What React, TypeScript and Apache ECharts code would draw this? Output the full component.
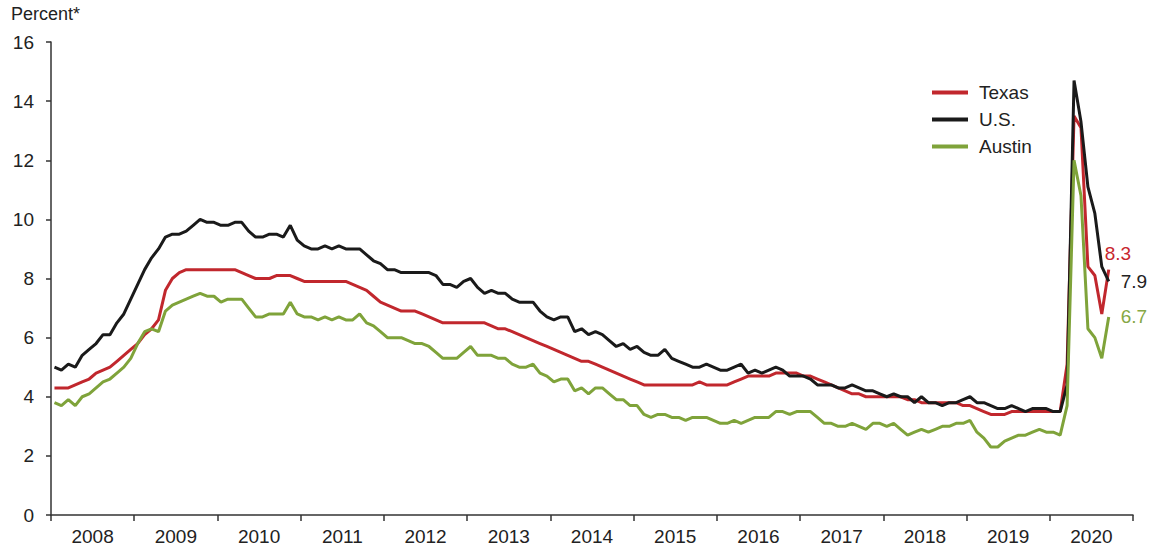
import React, { useEffect, useRef } from "react";
import * as echarts from "echarts";

const years = ["2008", "2009", "2010", "2011", "2012", "2013", "2014", "2015", "2016", "2017", "2018", "2019", "2020"];
const yTicks = { min: 0, max: 16, interval: 2 };

// Monthly unemployment rates, Jan 2008 – Sep 2020
const texas = [
  4.3, 4.3, 4.3, 4.4, 4.5, 4.6, 4.8, 4.9, 5.0, 5.2, 5.4, 5.6,
  5.8, 6.1, 6.3, 6.6, 7.6, 8.0, 8.2, 8.3, 8.3, 8.3, 8.3, 8.3,
  8.3, 8.3, 8.3, 8.2, 8.1, 8.0, 8.0, 8.0, 8.1, 8.1, 8.1, 8.0,
  7.9, 7.9, 7.9, 7.9, 7.9, 7.9, 7.9, 7.8, 7.7, 7.6, 7.4, 7.2,
  7.1, 7.0, 6.9, 6.9, 6.9, 6.8, 6.7, 6.6, 6.5, 6.5, 6.5, 6.5,
  6.5, 6.5, 6.5, 6.4, 6.3, 6.3, 6.2, 6.1, 6.0, 5.9, 5.8, 5.7,
  5.6, 5.5, 5.4, 5.3, 5.2, 5.2, 5.1, 5.0, 4.9, 4.8, 4.7, 4.6,
  4.5, 4.4, 4.4, 4.4, 4.4, 4.4, 4.4, 4.4, 4.4, 4.5, 4.4, 4.4,
  4.4, 4.4, 4.5, 4.6, 4.7, 4.7, 4.7, 4.7, 4.8, 4.8, 4.8, 4.8,
  4.7, 4.7, 4.6, 4.5, 4.4, 4.3, 4.2, 4.1, 4.1, 4.0, 4.0, 4.0,
  4.0, 4.0, 4.0, 3.9, 3.9, 3.8, 3.8, 3.8, 3.8, 3.8, 3.8, 3.7,
  3.7, 3.6, 3.5, 3.4, 3.4, 3.4, 3.5, 3.5, 3.5, 3.5, 3.5, 3.5,
  3.5, 3.5, 5.1, 13.5, 13.1, 8.4, 8.1, 6.8, 8.3,
];

const us = [
  5.0, 4.9, 5.1, 5.0, 5.4, 5.6, 5.8, 6.1, 6.1, 6.5, 6.8, 7.3,
  7.8, 8.3, 8.7, 9.0, 9.4, 9.5, 9.5, 9.6, 9.8, 10.0, 9.9, 9.9,
  9.8, 9.8, 9.9, 9.9, 9.6, 9.4, 9.4, 9.5, 9.5, 9.4, 9.8, 9.3,
  9.1, 9.0, 9.0, 9.1, 9.0, 9.1, 9.0, 9.0, 9.0, 8.8, 8.6, 8.5,
  8.3, 8.3, 8.2, 8.2, 8.2, 8.2, 8.2, 8.1, 7.8, 7.8, 7.7, 7.9,
  8.0, 7.7, 7.5, 7.6, 7.5, 7.5, 7.3, 7.2, 7.2, 7.2, 6.9, 6.7,
  6.6, 6.7, 6.7, 6.2, 6.3, 6.1, 6.2, 6.1, 5.9, 5.7, 5.8, 5.6,
  5.7, 5.5, 5.4, 5.4, 5.6, 5.3, 5.2, 5.1, 5.0, 5.0, 5.1, 5.0,
  4.9, 4.9, 5.0, 5.1, 4.8, 4.9, 4.8, 4.9, 5.0, 4.9, 4.7, 4.7,
  4.7, 4.6, 4.4, 4.4, 4.4, 4.3, 4.3, 4.4, 4.3, 4.2, 4.2, 4.1,
  4.0, 4.1, 4.0, 4.0, 3.8, 4.0, 3.8, 3.8, 3.7, 3.8, 3.8, 3.9,
  4.0, 3.8, 3.8, 3.7, 3.6, 3.6, 3.7, 3.6, 3.5, 3.6, 3.6, 3.6,
  3.5, 3.5, 4.4, 14.7, 13.3, 11.1, 10.2, 8.4, 7.9,
];

const austin = [
  3.8, 3.7, 3.9, 3.7, 4.0, 4.1, 4.3, 4.5, 4.6, 4.8, 5.0, 5.3,
  5.8, 6.2, 6.3, 6.2, 6.9, 7.1, 7.2, 7.3, 7.4, 7.5, 7.4, 7.4,
  7.2, 7.3, 7.3, 7.3, 7.0, 6.7, 6.7, 6.8, 6.8, 6.8, 7.2, 6.8,
  6.7, 6.7, 6.6, 6.7, 6.6, 6.7, 6.6, 6.6, 6.8, 6.5, 6.4, 6.2,
  6.0, 6.0, 6.0, 5.9, 5.8, 5.8, 5.7, 5.5, 5.3, 5.3, 5.3, 5.5,
  5.7, 5.4, 5.4, 5.4, 5.3, 5.3, 5.1, 5.0, 5.0, 5.1, 4.8, 4.7,
  4.5, 4.6, 4.6, 4.2, 4.3, 4.1, 4.3, 4.3, 4.1, 3.9, 3.9, 3.7,
  3.7, 3.4, 3.3, 3.4, 3.4, 3.3, 3.3, 3.2, 3.3, 3.3, 3.3, 3.2,
  3.1, 3.1, 3.2, 3.1, 3.2, 3.3, 3.3, 3.3, 3.5, 3.5, 3.4, 3.5,
  3.5, 3.5, 3.3, 3.1, 3.1, 3.0, 3.0, 3.1, 3.0, 2.9, 3.1, 3.1,
  3.0, 3.1, 2.9, 2.7, 2.8, 2.9, 2.8, 2.9, 3.0, 3.0, 3.1, 3.1,
  3.2, 2.8, 2.6, 2.3, 2.3, 2.5, 2.6, 2.7, 2.7, 2.8, 2.9, 2.8,
  2.8, 2.7, 3.7, 12.0, 10.8, 6.3, 6.0, 5.3, 6.7,
];

const FONT = "'Liberation Sans', Arial, Helvetica, sans-serif";
const RED = "#C1272D";
const BLACK = "#1a1a1a";
const GREEN = "#7FA33A";

const toPairs = (arr: number[]) => arr.map((v, i) => [i + 0.5, v]);

export default function App() {
  const ref = useRef<HTMLDivElement>(null);
  useEffect(() => {
    if (!ref.current) return;
    const chart = echarts.init(ref.current, undefined, { renderer: "svg" });
    const mkSeries = (name: string, data: number[], color: string, labelColor: string, offset: number[]) => ({
      name,
      type: "line",
      xAxisIndex: 1,
      data: toPairs(data),
      showSymbol: false,
      symbol: "none",
      lineStyle: { color, width: 3 },
      itemStyle: { color },
      endLabel: {
        show: true,
        formatter: (p: any) => String(p.value[1].toFixed(1)),
        color: labelColor,
        fontSize: 19,
        fontFamily: FONT,
        distance: 10,
        offset,
      },
      emphasis: { disabled: true },
    });
    chart.setOption({
      animation: false,
      textStyle: { fontFamily: FONT },
      title: {
        text: "Percent*",
        left: 11,
        top: 5,
        padding: 0,
        textStyle: { fontSize: 18, fontWeight: "normal", color: "#222", fontFamily: FONT },
      },
      legend: {
        orient: "vertical",
        left: 932,
        top: 83,
        padding: 0,
        itemWidth: 36,
        itemHeight: 4,
        itemGap: 8,
        icon: "rect",
        textStyle: { fontSize: 19, color: "#222", fontFamily: FONT, padding: [0, 0, 0, 6] },
        data: ["Texas", "U.S.", "Austin"],
      },
      grid: { left: 51, right: 20, top: 42, bottom: 37 },
      xAxis: [
        {
          type: "category",
          data: years,
          boundaryGap: true,
          axisLine: { show: true, lineStyle: { color: "#333", width: 1.5 } },
          axisTick: { show: true, length: 6, lineStyle: { color: "#333", width: 1.5 } },
          axisLabel: { fontSize: 19, color: "#222", margin: 12, fontFamily: FONT },
          splitLine: { show: false },
        },
        {
          type: "value",
          min: 0,
          max: years.length * 12,
          show: false,
          splitLine: { show: false },
        },
      ],
      yAxis: {
        type: "value",
        min: yTicks.min,
        max: yTicks.max,
        interval: yTicks.interval,
        axisLine: { show: true, lineStyle: { color: "#333", width: 1.5 } },
        axisTick: { show: true, length: 5, lineStyle: { color: "#333", width: 1.5 } },
        axisLabel: { fontSize: 19, color: "#222", margin: 17, fontFamily: FONT },
        splitLine: { show: false },
      },
      series: [
        mkSeries("Texas", texas, RED, "#C8262E", [-14, -16]),
        mkSeries("U.S.", us, BLACK, "#222", [2, 0]),
        mkSeries("Austin", austin, GREEN, "#86A845", [2, 0]),
      ],
    });
    return () => chart.dispose();
  }, []);
  return (
    <div
      ref={ref}
      style={{ position: "fixed", left: 0, top: 0, width: 1153, height: 552, background: "#fff" }}
    />
  );
}
